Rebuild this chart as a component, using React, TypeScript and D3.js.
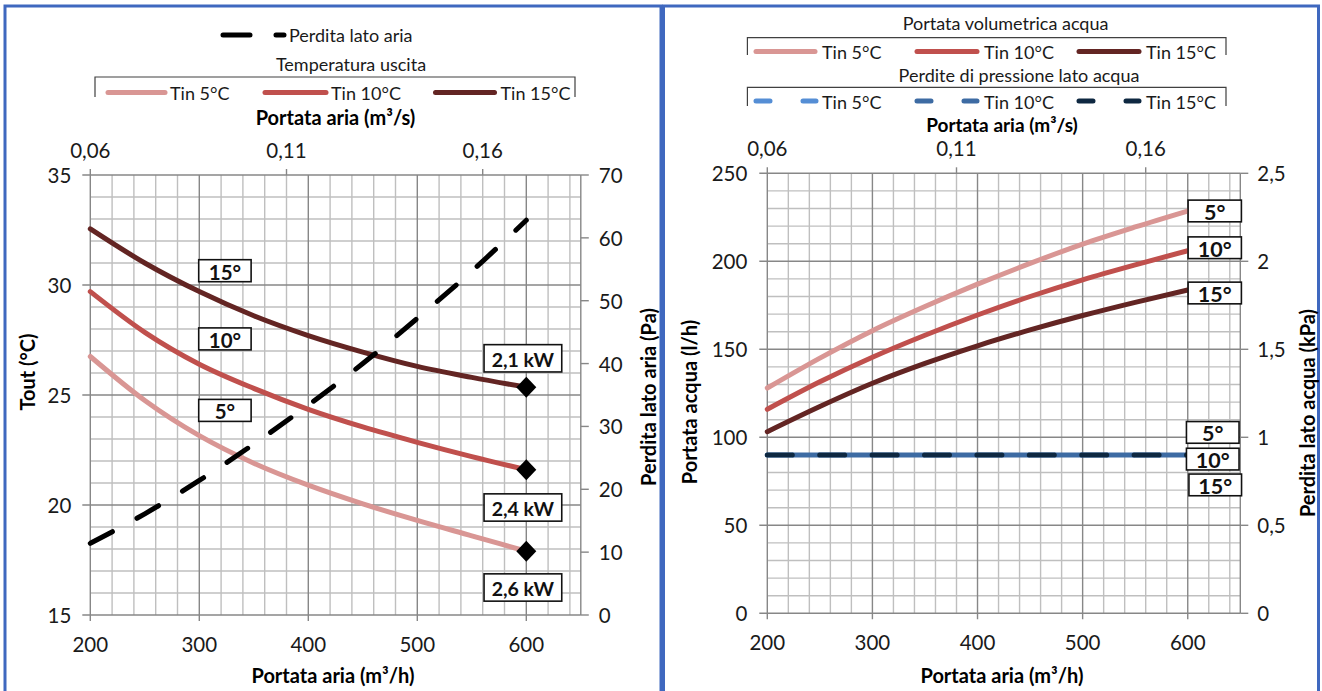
import React from 'react';
import * as d3 from 'd3';

// ---------- DATA ----------
const airFlow = [200, 250, 300, 350, 400, 450, 500, 550, 600]; // m³/h

// Left chart: outlet temperature (°C)
const toutTin5 = [26.75, 24.75, 23.15, 21.9, 20.9, 20.05, 19.3, 18.6, 17.9];
const toutTin10 = [29.7, 27.85, 26.4, 25.3, 24.35, 23.55, 22.85, 22.2, 21.6];
const toutTin15 = [32.55, 31.0, 29.7, 28.6, 27.7, 26.95, 26.3, 25.8, 25.35];
// Left chart: air side pressure drop (Pa)
const airPressureDrop = [11.4, 16.1, 21.4, 27.2, 33.4, 40.0, 47.2, 54.7, 62.8];

// Right chart: water volumetric flow (l/h)
const waterFlowTin5 = [128, 145, 160.6, 174.3, 187, 198.8, 209.8, 219.5, 228.6];
const waterFlowTin10 = [115.9, 131.5, 145.5, 158, 169.5, 180, 189.5, 198, 206];
const waterFlowTin15 = [103.2, 117.5, 130.7, 142, 152, 161, 169.2, 176.7, 183.7];
// Right chart: water side pressure drop (kPa)
const waterDropTin5 = [0.9, 0.9, 0.9, 0.9, 0.9, 0.9, 0.9, 0.9, 0.9];
const waterDropTin10 = [0.9, 0.9, 0.9, 0.9, 0.9, 0.9, 0.9, 0.9, 0.9];
const waterDropTin15 = [0.9, 0.9, 0.9, 0.9, 0.9, 0.9, 0.9, 0.9, 0.9];

const seriesNames = ['Tin 5°C', 'Tin 10°C', 'Tin 15°C'];
const shortLabels = ['5°', '10°', '15°'];
const capacityLabels = ['2,6 kW', '2,4 kW', '2,1 kW']; // for Tin 5, 10, 15
const airDomain = [200, 650];

// ---------- STYLE ----------
const FONT = "Lato, 'Open Sans', sans-serif";
const RED = ['#D99694', '#C0504D', '#632523'];
const BLUE = ['#558ED5', '#3D6BA3', '#0E2841'];
const MINOR = '#BFBFBF';
const MAJOR = '#878787';
const TXT = '#1a1a1a';
const BORDER = '#3F68BF';

const comma = (v: number, f = '') => (f ? d3.format(f)(v) : String(v)).replace('.', ',');

type FrameProps = {
  xs: d3.ScaleLinear<number, number>;
  yl: d3.ScaleLinear<number, number>;
  yr: d3.ScaleLinear<number, number>;
  yMinorStep: number;
  yMajorStep: number;
  yrStep: number;
  leftLabelGap: number;
  rightLabelGap: number;
};

function Frame({ xs, yl, yr, yMinorStep, yMajorStep, yrStep, leftLabelGap, rightLabelGap }: FrameProps) {
  const [x0, x1] = xs.range();
  const [yb, yt] = yl.range();
  const xMinor = d3.range(airDomain[0], airDomain[1], 20);
  const [d0, d1] = yl.domain();
  const yMinor = d3.range(d0, d1 + 1e-9, yMinorStep);
  const isMajorY = (v: number) => Math.abs(v / yMajorStep - Math.round(v / yMajorStep)) < 1e-6;
  const xMajor = d3.range(airDomain[0], 601, 100);
  const yMajor = yMinor.filter(isMajorY);
  const yrTicks = d3.range(yr.domain()[0], yr.domain()[1] + 1e-9, yrStep);
  const top = d3.scaleLinear().domain([airDomain[0] / 3600, airDomain[1] / 3600]).range([x0, x1]);
  const topTicks = d3.range(airDomain[0] / 3600, airDomain[1] / 3600, 0.05);
  return (
    <g>
      {xMinor.filter((v) => v % 100 !== 0).map((v) => (
        <line key={'vx' + v} x1={xs(v)} x2={xs(v)} y1={yt} y2={yb} stroke={MINOR} strokeWidth={1.4} />
      ))}
      {yMinor.filter((v) => !isMajorY(v)).map((v) => (
        <line key={'hy' + v} x1={x0} x2={x1} y1={yl(v)} y2={yl(v)} stroke={MINOR} strokeWidth={1.4} />
      ))}
      {xMajor.map((v) => (
        <line key={'Vx' + v} x1={xs(v)} x2={xs(v)} y1={yt} y2={yb + 6} stroke={MAJOR} strokeWidth={1.4} />
      ))}
      {yMajor.map((v) => (
        <line key={'Hy' + v} x1={x0 - 8} x2={x1} y1={yl(v)} y2={yl(v)} stroke={MAJOR} strokeWidth={1.4} />
      ))}
      <line x1={x1} x2={x1} y1={yt} y2={yb} stroke={MAJOR} strokeWidth={1.4} />
      {yrTicks.map((v) => (
        <line key={'rt' + v} x1={x1} x2={x1 + 8} y1={yr(v)} y2={yr(v)} stroke={MAJOR} strokeWidth={1.4} />
      ))}
      {topTicks.map((v) => (
        <line key={'tt' + v} x1={top(v)} x2={top(v)} y1={yt - 6} y2={yt} stroke={MAJOR} strokeWidth={1.4} />
      ))}
      {/* tick labels */}
      <g fontFamily={FONT} fontSize={20.5} fill={TXT}>
        {yMajor.map((v) => (
          <text key={'lt' + v} x={x0 - leftLabelGap} y={yl(v)} textAnchor="end" dominantBaseline="central">
            {comma(v)}
          </text>
        ))}
        {yrTicks.map((v) => (
          <text key={'rl' + v} x={x1 + rightLabelGap} y={yr(v)} textAnchor="start" dominantBaseline="central">
            {comma(+v.toFixed(2))}
          </text>
        ))}
        {xMajor.map((v) => (
          <text key={'bl' + v} x={xs(v)} y={yb + 29} textAnchor="middle" dominantBaseline="central">
            {v}
          </text>
        ))}
        {topTicks.map((v) => (
          <text key={'tl' + v} x={top(v)} y={yt - 25} textAnchor="middle" dominantBaseline="central">
            {comma(v, '.2f')}
          </text>
        ))}
      </g>
    </g>
  );
}

function Box({ cx, cy, w, h, text, size }: { cx: number; cy: number; w: number; h: number; text: string; size: number }) {
  return (
    <g>
      <rect x={cx - w / 2} y={cy - h / 2} width={w} height={h} fill="#fff" stroke="#111" strokeWidth={1.6} />
      <text x={cx} y={cy + 1} textAnchor="middle" dominantBaseline="central" fontFamily={FONT} fontWeight="bold" fontSize={size} fill="#111">
        {text}
      </text>
    </g>
  );
}

export default function App() {
  // ---------- LEFT CHART ----------
  const xL = d3.scaleLinear().domain(airDomain).range([90.3, 580.8]);
  const yT = d3.scaleLinear().domain([15, 35]).range([615, 175]);
  const yP = d3.scaleLinear().domain([0, 70]).range([615, 175]);
  const toutSeries = [toutTin5, toutTin10, toutTin15];
  const lineL = (arr: number[], y: d3.ScaleLinear<number, number>, x: d3.ScaleLinear<number, number>) =>
    d3
      .line<number>()
      .x((_, i) => x(airFlow[i]))
      .y((d) => y(d))
      .curve(d3.curveMonotoneX)(arr) || '';

  // ---------- RIGHT CHART ----------
  const xR = d3.scaleLinear().domain(airDomain).range([767.3, 1240.3]);
  const yW = d3.scaleLinear().domain([0, 250]).range([613.3, 173.3]);
  const yK = d3.scaleLinear().domain([0, 2.5]).range([613.3, 173.3]);
  const flowSeries = [waterFlowTin5, waterFlowTin10, waterFlowTin15];
  const dropSeries = [waterDropTin5, waterDropTin10, waterDropTin15];

  const last = airFlow.length - 1;
  const tempLabelPos = [24.3, 27.55, 30.65]; // °C anchor values for the inline labels
  const capOffsets = [36.3, 37.7, -29];
  const flowLabelDy = [0, -3, 3];
  const dropLabelDy = [-22.5, 4.2, 30];

  const diamond = (cx: number, cy: number) =>
    `M${cx},${cy - 10.5} L${cx + 10},${cy} L${cx},${cy + 10.5} L${cx - 10},${cy} Z`;

  return (
    <svg width={1322} height={691} style={{ position: 'absolute', left: 0, top: 0, background: '#fff' }}>
      <rect x={0} y={0} width={1322} height={691} fill="#fff" />
      {/* panel borders */}
      <rect x={5} y={6} width={656} height={700} fill="none" stroke={BORDER} strokeWidth={3} />
      <rect x={663.5} y={6} width={655} height={700} fill="none" stroke={BORDER} strokeWidth={3} />

      {/* ===== LEFT ===== */}
      <Frame xs={xL} yl={yT} yr={yP} yMinorStep={1} yMajorStep={5} yrStep={10} leftLabelGap={19} rightLabelGap={18} />
      {toutSeries.map((s, i) => (
        <path key={'t' + i} d={lineL(s, yT, xL)} fill="none" stroke={RED[i]} strokeWidth={5} strokeLinecap="round" />
      ))}
      {toutSeries.map((s, i) => (
        <path key={'dm' + i} d={diamond(xL(airFlow[last]), yT(s[last]))} fill="#000" />
      ))}
      <path d={lineL(airPressureDrop, yP, xL)} fill="none" stroke="#000" strokeWidth={5} strokeDasharray="25,28" strokeLinecap="round" />
      {shortLabels.map((t, i) => (
        <Box key={'sl' + i} cx={xL(323.5)} cy={yT(tempLabelPos[i])} w={52.4} h={22} text={t} size={20.5} />
      ))}
      {toutSeries.map((s, i) => (
        <Box key={'cap' + i} cx={xL(airFlow[last]) - 3.4} cy={yT(s[last]) + capOffsets[i]} w={77.7} h={27.3} text={capacityLabels[i]} size={19.5} />
      ))}

      {/* left legends */}
      <g fontFamily={FONT} fontSize={18} fill={TXT}>
        <line x1={223} x2={284} y1={35} y2={35} stroke="#000" strokeWidth={5} strokeDasharray="27,26" strokeLinecap="round" />
        <text x={289} y={35} dominantBaseline="central">Perdita lato aria</text>
        <text x={351} y={64} textAnchor="middle" dominantBaseline="central">Temperatura uscita</text>
        <path d="M95,97 V77 H575 V97" fill="none" stroke="#404040" strokeWidth={1.2} />
        {[[108, 165, 170], [265, 326, 331], [435.5, 494.5, 500.5]].map(([a, b, t], i) => (
          <g key={'ll' + i}>
            <line x1={a} x2={b} y1={92.5} y2={92.5} stroke={RED[i]} strokeWidth={5} strokeLinecap="round" />
            <text x={t} y={92.5} dominantBaseline="central">{seriesNames[i]}</text>
          </g>
        ))}
      </g>
      <g fontFamily={FONT} fontSize={20} fontWeight="bold" fill="#000">
        <text x={335.5} y={117} textAnchor="middle" dominantBaseline="central">Portata aria (m³/s)</text>
        <text x={333} y={675} textAnchor="middle" dominantBaseline="central">Portata aria (m³/h)</text>
        <text transform="translate(27,372) rotate(-90)" textAnchor="middle" dominantBaseline="central">Tout (°C)</text>
        <text transform="translate(648,397) rotate(-90)" textAnchor="middle" dominantBaseline="central">Perdita lato aria (Pa)</text>
      </g>

      {/* ===== RIGHT ===== */}
      <Frame xs={xR} yl={yW} yr={yK} yMinorStep={10} yMajorStep={50} yrStep={0.5} leftLabelGap={20} rightLabelGap={17} />
      {flowSeries.map((s, i) => (
        <path key={'w' + i} d={lineL(s, yW, xR)} fill="none" stroke={RED[i]} strokeWidth={5} strokeLinecap="round" />
      ))}
      <path d={lineL(dropSeries[0], yK, xR)} fill="none" stroke={BLUE[0]} strokeWidth={5} strokeDasharray="25,27.4" strokeLinecap="round" />
      <path d={lineL(dropSeries[1], yK, xR)} fill="none" stroke={BLUE[1]} strokeWidth={5} strokeDasharray="25,27.4" strokeDashoffset={26.2} strokeLinecap="round" />
      <path d={lineL(dropSeries[2], yK, xR)} fill="none" stroke={BLUE[2]} strokeWidth={5} strokeDasharray="25,27.4" strokeLinecap="round" />
      {flowSeries.map((s, i) => (
        <Box key={'fl' + i} cx={xR(airFlow[last]) + 27} cy={yW(s[last]) + flowLabelDy[i]} w={53.3} h={21.7} text={shortLabels[i]} size={21.5} />
      ))}
      {dropSeries.map((s, i) => (
        <Box key={'dl' + i} cx={xR(airFlow[last]) + 25 + (i === 2 ? 2.5 : 0)} cy={yK(s[last]) + dropLabelDy[i]} w={52.6} h={21.7} text={shortLabels[i]} size={21.5} />
      ))}

      {/* right legends */}
      <g fontFamily={FONT} fontSize={18} fill={TXT}>
        <text x={1005.6} y={23} textAnchor="middle" dominantBaseline="central">Portata volumetrica acqua</text>
        <path d="M747.4,55 V37.7 H1226 V55" fill="none" stroke="#404040" strokeWidth={1.2} />
        {[[756, 815, 822], [917, 977, 984], [1079, 1139, 1146]].map(([a, b, t], i) => (
          <g key={'rl' + i}>
            <line x1={a} x2={b} y1={51.5} y2={51.5} stroke={RED[i]} strokeWidth={5} strokeLinecap="round" />
            <text x={t} y={52} dominantBaseline="central">{seriesNames[i]}</text>
          </g>
        ))}
        <text x={1019} y={75} textAnchor="middle" dominantBaseline="central">Perdite di pressione lato acqua</text>
        <path d="M747.4,106 V87.3 H1226 V106" fill="none" stroke="#404040" strokeWidth={1.2} />
        {[[756, 816, 822], [917, 977, 984], [1079, 1139, 1146]].map(([a, b, t], i) => (
          <g key={'rb' + i}>
            <line x1={a} x2={b} y1={101} y2={101} stroke={BLUE[i]} strokeWidth={5} strokeDasharray="14,33" strokeLinecap="round" />
            <text x={t} y={101.5} dominantBaseline="central">{seriesNames[i]}</text>
          </g>
        ))}
      </g>
      <g fontFamily={FONT} fontSize={20} fontWeight="bold" fill="#000">
        <text x={1002} y={675} textAnchor="middle" dominantBaseline="central">Portata aria (m³/h)</text>
        <text transform="translate(689,402) rotate(-90)" textAnchor="middle" dominantBaseline="central">Portata acqua (l/h)</text>
        <text transform="translate(1307,413) rotate(-90)" textAnchor="middle" dominantBaseline="central">Perdita lato acqua (kPa)</text>
      </g>
      <text x={1002} y={124} textAnchor="middle" dominantBaseline="central" fontFamily={FONT} fontSize={19} fontWeight="bold" fill="#000">
        Portata aria (m³/s)
      </text>
    </svg>
  );
}
